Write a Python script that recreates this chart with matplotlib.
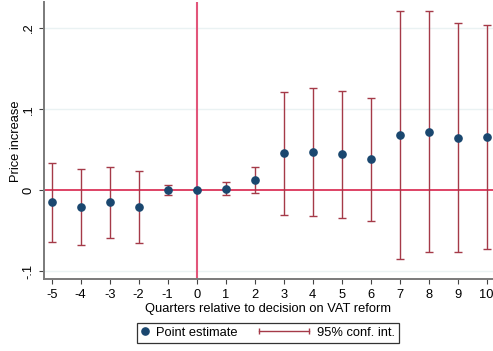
import matplotlib
matplotlib.use("Agg")
import matplotlib.pyplot as plt
import numpy as np
from matplotlib.lines import Line2D
from matplotlib.legend_handler import HandlerBase, HandlerLine2D

plt.rcParams['font.family'] = ['Liberation Sans', 'DejaVu Sans']

# quarters relative to decision, point estimates and 95% CI bounds
quarters = [-5, -4, -3, -2, -1, 0, 1, 2, 3, 4, 5, 6, 7, 8, 9, 10]
estimate = [-0.0148, -0.0206, -0.0148, -0.0206, 0.0, 0.0, 0.002, 0.0127,
            0.0457, 0.0477, 0.0444, 0.0383, 0.0683, 0.0723, 0.065, 0.0658]
ci_upper = [0.034, 0.026, 0.029, 0.0238, 0.007, 0.0, 0.0106, 0.0284,
            0.1214, 0.1267, 0.1226, 0.114, 0.221, 0.2217, 0.2057, 0.2037]
ci_lower = [-0.0634, -0.068, -0.0593, -0.0655, -0.0062, 0.0, -0.006, -0.003,
            -0.0301, -0.0317, -0.0338, -0.0379, -0.0844, -0.0766, -0.0766, -0.0725]
yticks = [-0.1, 0, 0.1, 0.2]
ytick_labels = ['-.1', '0', '.1', '.2']

navy = '#1a476f'
ci_col = '#a53a48'
fs = 9.3
fs_leg = 9.3


class CIHandler(HandlerBase):
    # horizontal capped line, wider than the handle box
    def create_artists(self, legend, orig_handle, xdescent, ydescent,
                       width, height, fontsize, trans):
        y = height / 2 - ydescent
        x1 = width - xdescent - 0.07 * fontsize
        x0 = x1 - 3.87 * fontsize
        ln = Line2D([x0, x1], [y, y], color=ci_col, lw=1.0, marker='|',
                    markersize=5, markeredgewidth=1.0, transform=trans)
        return [ln]


fig = plt.figure(figsize=(4.93, 3.51), dpi=100)
ax = fig.add_axes([0.0886, 0.2051, 0.9114, 0.7878])

x = np.array(quarters)
y = np.array(estimate)
lo = np.array(ci_lower)
hi = np.array(ci_upper)

for yt in yticks:
    if yt != 0:
        ax.axhline(yt, color='#eaf2f3', lw=1.0, zorder=0)
ax.axhline(0, color='#d40f3c', lw=1.1, zorder=1)
ax.axvline(0, color='#e2557a', lw=1.5, zorder=1)

ax.errorbar(x, y, yerr=[y - lo, hi - y], fmt='none', ecolor=ci_col,
            elinewidth=1.0, capsize=2.6, capthick=1.0, zorder=2)
ax.plot(x, y, 'o', color=navy, markersize=5.2, zorder=3)

ax.set_xlim(-5.276, 10.22)
ax.set_ylim(-0.1095, 0.2316)
ax.set_xticks(quarters)
ax.set_xticklabels([str(q) for q in quarters], fontsize=fs)
ax.set_yticks(yticks)
ax.set_yticklabels(ytick_labels, fontsize=fs, rotation=90, va='center')

for s in ['top', 'right']:
    ax.spines[s].set_visible(False)
for s in ['left', 'bottom']:
    ax.spines[s].set_color('#7a7a7a')
    ax.spines[s].set_linewidth(1.4)
ax.tick_params(axis='both', direction='out', length=3.5, width=0.8,
               color='#444444')
ax.tick_params(axis='x', pad=3.5)
ax.tick_params(axis='y', pad=3)

ax.set_ylabel('Price increase', fontsize=fs, labelpad=0.5)
ax.set_xlabel('Quarters relative to decision on VAT reform', fontsize=fs,
              labelpad=1.5)

h_pt = Line2D([], [], ls='none', marker='o', color=navy, markersize=5.2)
h_ci = Line2D([], [], color=ci_col)
leg = ax.legend([h_pt, h_ci], ['Point estimate', '95% conf. int.'],
                loc='upper center', bbox_to_anchor=(0.5, -0.158),
                ncol=2, fontsize=fs_leg, frameon=True, fancybox=False,
                edgecolor='black', handlelength=0.6, handletextpad=0.55,
                columnspacing=5.0, borderpad=0.33, borderaxespad=0,
                handler_map={h_ci: CIHandler(), h_pt: HandlerLine2D(numpoints=1)})
leg.get_frame().set_linewidth(0.9)

fig.savefig('out.png', dpi=100)
